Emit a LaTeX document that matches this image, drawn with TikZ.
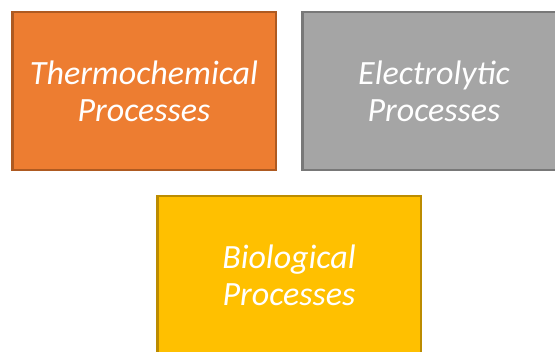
\documentclass[tikz,border=0pt]{standalone}
\usepackage{fontspec}
\setmainfont{Carlito}
\usepackage{xcolor}
\usepackage{tikz}
\usetikzlibrary{positioning}

\definecolor{thermo}{HTML}{ED7D31}
\definecolor{thermoedge}{HTML}{AE5A21}
\definecolor{electro}{HTML}{A5A5A5}
\definecolor{electroedge}{HTML}{787878}
\definecolor{bio}{HTML}{FFC000}
\definecolor{bioedge}{HTML}{BC8C00}

\tikzset{
    procbox/.style={draw, line width=2.5pt, minimum width=263.5pt, minimum height=158pt,
        align=center, text=white, inner sep=0pt,
        font=\itshape\fontsize{34}{37}\selectfont}
}

\begin{document}
\begin{tikzpicture}[x=1pt, y=-1pt]
    \useasboundingbox (0, 0) rectangle (555, 352);

    % 上排：热化学 / 电解
    \node[procbox, fill=thermo, draw=thermoedge] (thermal) at (144, 91) {Thermochemical\\Processes};
    \node[procbox, fill=electro, draw=electroedge] (electrolytic) at (434, 91) {Electrolytic\\Processes};

    % 下排：生物
    \node[procbox, fill=bio, draw=bioedge] (biological) at (289, 275) {Biological\\Processes};
\end{tikzpicture}
\end{document}
